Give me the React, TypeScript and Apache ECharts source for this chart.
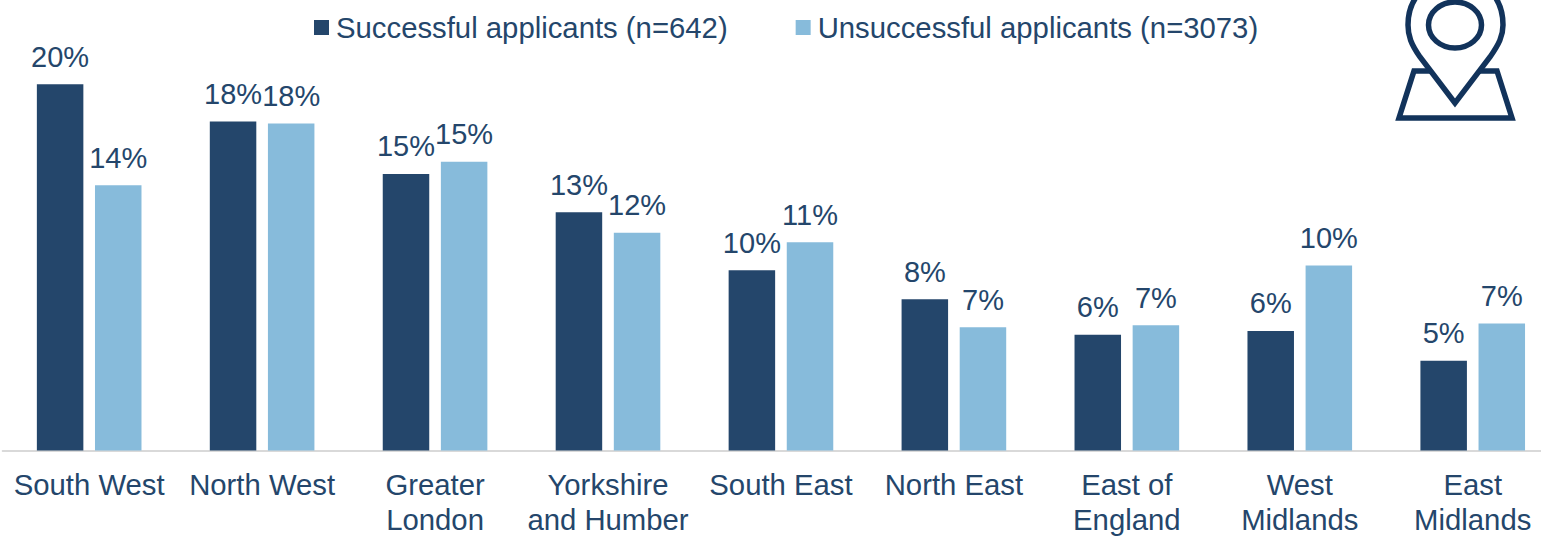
import React, { useEffect, useRef } from "react";
import * as echarts from "echarts";

const categories = ["South West", "North West", "Greater\nLondon", "Yorkshire\nand Humber", "South East", "North East", "East of\nEngland", "West\nMidlands", "East\nMidlands"];
const successful = [19.6, 17.6, 14.8, 12.75, 9.65, 8.1, 6.2, 6.4, 4.8];
const unsuccessful = [14.2, 17.5, 15.45, 11.65, 11.15, 6.6, 6.7, 9.9, 6.8];
const seriesNames = ["Successful applicants (n=642)", "Unsuccessful applicants (n=3073)"];

const DARK = "#24466B";
const LIGHT = "#87BBDB";
const FONT = '"Liberation Sans", Arial, sans-serif';
const ICON = "#12335B";

const PIN = "M1455 103 L1420 57 C1411 44 1408 36 1408 25 C1408 -5 1430 -22 1456 -22 C1482 -22 1503 -5 1503 25 C1503 36 1499 44 1490 57 Z";
const BASE = "M1430 71 L1414 71 L1399 118 L1512 118 L1497 71 L1480 71";

export default function App() {
  const ref = useRef<HTMLDivElement>(null);
  useEffect(() => {
    document.body.style.margin = "0";
    echarts.graphic.registerShape("pin", echarts.graphic.extendPath(PIN, {}));
    echarts.graphic.registerShape("mapBase", echarts.graphic.extendPath(BASE, {}));
    const chart = echarts.init(ref.current!, undefined, { renderer: "svg" });
    const label = {
      show: true,
      position: "top" as const,
      distance: 13,
      color: DARK,
      fontFamily: FONT,
      fontSize: 29,
      formatter: (p: any) => Math.round(p.value) + "%",
    };
    chart.setOption({
      animation: false,
      backgroundColor: "#fff",
      legend: {
        left: 314,
        top: 13,
        itemWidth: 15,
        itemHeight: 15,
        itemGap: 68,
        icon: "rect",
        padding: 0,
        textStyle: { color: DARK, fontFamily: FONT, fontSize: 29.3, padding: [0, 0, 0, 2] },
        data: seriesNames,
      },
      grid: { left: 2.7, top: 2, width: 1556.5, height: 448.5, outerBoundsMode: "none" },
      xAxis: {
        type: "category",
        data: categories,
        axisLine: { lineStyle: { color: "#D9D9D9", width: 2 } },
        axisTick: { show: false },
        axisLabel: { color: DARK, fontFamily: FONT, fontSize: 29.3, lineHeight: 35, margin: 16, interval: 0 },
      },
      yAxis: { type: "value", min: 0, max: 24, show: false, splitLine: { show: false } },
      series: [
        { name: seriesNames[0], type: "bar", data: successful, barWidth: 46.5, barGap: "25%", itemStyle: { color: DARK }, label },
        { name: seriesNames[1], type: "bar", data: unsuccessful, barWidth: 46.5, barGap: "25%", itemStyle: { color: LIGHT }, label },
      ],
      graphic: [
        { type: "pin", x: 0, y: 0, style: { fill: "none", stroke: ICON, lineWidth: 5.5 } },
        { type: "mapBase", x: 0, y: 0, style: { fill: "none", stroke: ICON, lineWidth: 5.5 } },
        { type: "ellipse", shape: { cx: 1455, cy: 25, rx: 26.5, ry: 23 }, style: { fill: "none", stroke: ICON, lineWidth: 5.5 } },
      ],
    });
    return () => chart.dispose();
  }, []);
  return <div ref={ref} style={{ width: 1541, height: 538 }} />;
}
